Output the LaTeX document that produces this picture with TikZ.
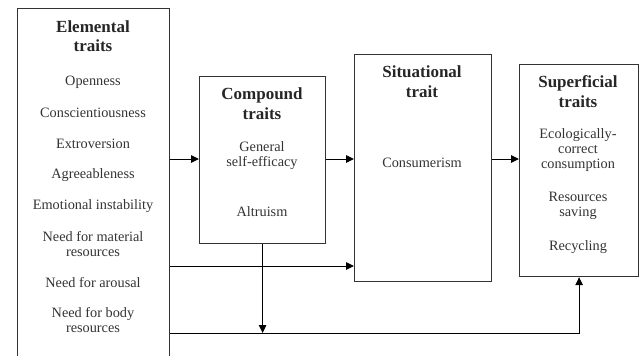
\documentclass[tikz,border=0pt]{standalone}
\usepackage{fontspec}
\setmainfont{Liberation Serif}
\usetikzlibrary{arrows.meta}
\begin{document}
\begin{tikzpicture}[x=1pt,y=-1pt,
  box/.style={draw=black!80, line width=1.2pt, anchor=north west, inner sep=0pt},
  ttl/.style={font=\fontsize{17}{19.5}\selectfont\bfseries, text=black!85, align=center, inner sep=0pt},
  itm/.style={font=\fontsize{14.3}{15}\selectfont, text=black!80, align=center, inner sep=0pt},
  arr/.style={draw=black, line width=0.9pt, -{Triangle[length=8pt,width=7.5pt]}}]
\useasboundingbox (0,0) rectangle (641,356);
\clip (0,0) rectangle (641,356);

% boxes
\node[box, minimum width=152, minimum height=360] (elem) at (17,8) {};
\node[box, minimum width=126, minimum height=167] (comp) at (199,76) {};
\node[box, minimum width=137, minimum height=227] (sit) at (354,54) {};
\node[box, minimum width=119, minimum height=212] (sup) at (519,64) {};

% elemental traits
\node[ttl] (elemT) at (93,36) {Elemental\\traits};
\node[itm] (e1) at (93,82) {Openness};
\node[itm] (e2) at (93,113) {Conscientiousness};
\node[itm] (e3) at (93,144) {Extroversion};
\node[itm] (e4) at (93,175) {Agreeableness};
\node[itm] (e5) at (93,206) {Emotional instability};
\node[itm] (e6) at (93,244.5) {Need for material\\resources};
\node[itm] (e7) at (93,283) {Need for arousal};
\node[itm] (e8) at (93,320.5) {Need for body\\resources};

% compound traits
\node[ttl] (compT) at (262,103.5) {Compound\\traits};
\node[itm] (c1) at (262,156) {General\\self-efficacy};
\node[itm] (c2) at (262,212) {Altruism};

% situational trait
\node[ttl] (sitT) at (422,81.5) {Situational\\trait};
\node[itm] (s1) at (422,163) {Consumerism};

% superficial traits
\node[ttl] (supT) at (578,91.5) {Superficial\\traits};
\node[itm] (p1) at (578,150.5) {Ecologically-\\correct\\consumption};
\node[itm] (p2) at (578,206) {Resources\\saving};
\node[itm] (p3) at (578,247) {Recycling};

% connector levels
\coordinate (yA) at (0,159);
\coordinate (yB) at (0,266);
\coordinate (yC) at (0,333);
\coordinate (jn) at (comp.south |- yC);

% connectors
\draw[arr] (elem.east |- yA) -- (comp.west |- yA);
\draw[arr] (comp.east |- yA) -- (sit.west |- yA);
\draw[arr] (sit.east |- yA) -- (sup.west |- yA);
\draw[arr] (elem.east |- yB) -- (sit.west |- yB);
\draw[arr] (comp.south) -- (jn);
\draw[arr] (elem.east |- yC) -| (sup.south);
\end{tikzpicture}
\end{document}
